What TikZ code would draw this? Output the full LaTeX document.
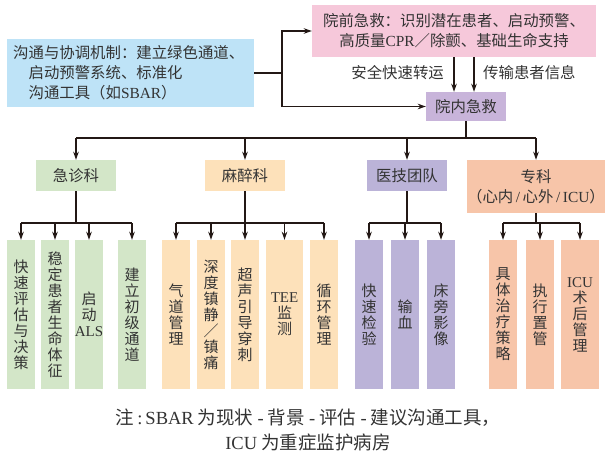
\documentclass[tikz,border=0pt]{standalone}
\usepackage{fontspec}
\setmainfont{Liberation Serif}
\newfontfamily\cjk{Noto Sans CJK SC}
\newcommand\lat[1]{{\rmfamily #1}}
\usetikzlibrary{arrows.meta}
\definecolor{cpink}{HTML}{F6C8DA}
\definecolor{cblue}{HTML}{BEE3F7}
\definecolor{cynj}{HTML}{C8B4DA}
\definecolor{cgreen}{HTML}{D3E6C8}
\definecolor{cpeach}{HTML}{FDE1BA}
\definecolor{clav}{HTML}{BBB3D8}
\definecolor{csalmon}{HTML}{F7C5A9}
\definecolor{txt}{HTML}{333333}
\definecolor{ln}{HTML}{231815}
\tikzset{
  box/.style={inner sep=0pt, text=txt, align=center, font=\cjk\fontsize{15.4}{20}\selectfont},
  lvltwo/.style={box, minimum width=80pt, minimum height=31pt},
  leaf/.style={box, minimum width=28pt, minimum height=149pt, font=\cjk\fontsize{15}{16}\selectfont},
  lbl/.style={inner sep=0pt, text=txt, font=\cjk\fontsize{15.4}{20}\selectfont},
  conn/.style={draw=ln, line width=1.6pt},
  arr/.style={conn, -{Stealth[length=8pt,width=5.5pt]}},
}
\begin{document}
\begin{tikzpicture}[x=1pt,y=-1pt]
\useasboundingbox (0,0) rectangle (609,454);
% top boxes
\node[box, fill=cpink, minimum width=284pt, minimum height=52pt] (pre) at (454,31)
  {院前急救：识别潜在患者、启动预警、\\高质量\lat{CPR}／除颤、基础生命支持};
\node[box, fill=cblue, minimum width=247pt, minimum height=68pt] (blue) at (130.5,73) {};
\node[lbl, anchor=west, align=left] (bluetxt) at (13,73)
  {沟通与协调机制：建立绿色通道、\\\phantom{沟}启动预警系统、标准化\\\phantom{沟}沟通工具（如\lat{SBAR}）};
\node[box, fill=cynj, minimum width=80pt, minimum height=29pt] (ynj) at (466,106.5) {院内急救};
% level 2
\node[lvltwo, fill=cgreen] (jz) at (76,175.5) {急诊科};
\node[lvltwo, fill=cpeach] (mz) at (245,175.5) {麻醉科};
\node[lvltwo, fill=clav] (yj) at (407,175.5) {医技团队};
\node[box, fill=csalmon, minimum width=136pt, minimum height=53pt] (zk) at (536,186.5)
  {专科\\（心内\lat{\,/\,}心外\lat{\,/\,ICU}）};
% leaves
\node[leaf, fill=cgreen] (g1) at (21,314.5) {快\\速\\评\\估\\与\\决\\策};
\node[leaf, fill=cgreen] (g2) at (55,314.5) {稳\\定\\患\\者\\生\\命\\体\\征};
\node[leaf, fill=cgreen] (g3) at (89,314.5) {启\\动\\\lat{ALS}};
\node[leaf, fill=cgreen] (g4) at (132,314.5) {建\\立\\初\\级\\通\\道};
\node[leaf, fill=cpeach] (o1) at (176,314.5) {气\\道\\管\\理};
\node[leaf, fill=cpeach] (o2) at (211,314.5) {深\\度\\镇\\静\\／\\镇\\痛};
\node[leaf, fill=cpeach] (o3) at (245,314.5) {超\\声\\引\\导\\穿\\刺};
\node[leaf, fill=cpeach, minimum width=37pt] (o4) at (284.5,314.5) {\lat{TEE}\\监\\测};
\node[leaf, fill=cpeach] (o5) at (324,314.5) {循\\环\\管\\理};
\node[leaf, fill=clav] (p1) at (369,314.5) {快\\速\\检\\验};
\node[leaf, fill=clav] (p2) at (405,314.5) {输\\血};
\node[leaf, fill=clav] (p3) at (441,314.5) {床\\旁\\影\\像};
\node[leaf, fill=csalmon] (s1) at (503,314.5) {具\\体\\治\\疗\\策\\略};
\node[leaf, fill=csalmon] (s2) at (540,314.5) {执\\行\\置\\管};
\node[leaf, fill=csalmon, minimum width=38pt] (s3) at (580,314.5) {\lat{ICU}\\术\\后\\管\\理};
% connectors top
\coordinate (j) at (282,73);
\draw[conn] (blue.east) -- (j);
\draw[arr] (j) |- (pre.west);
\draw[arr] (j) |- (ynj.west);
\draw[arr] (pre.south) -- (pre.south |- ynj.north);
\draw[arr] ([xshift=20pt]pre.south) -- ([xshift=20pt]pre.south |- ynj.north);
\node[lbl, anchor=east] (l1) at (444,73) {安全快速转运};
\node[lbl, anchor=west] (l2) at (483,73) {传输患者信息};
% level 2 connectors
\coordinate (b1) at (466,138);
\draw[conn] (ynj.south) -- (b1);
\draw[conn] (jz.north |- b1) -- (zk.north |- b1);
\foreach \n in {jz,mz,yj,zk} \draw[arr] (\n.north |- b1) -- (\n.north);
% level 3 connectors
\coordinate (b2) at (0,223);
\draw[conn] (jz.south) -- (jz.south |- b2);
\draw[conn] (g1.north |- b2) -- (g4.north |- b2);
\foreach \n in {g1,g2,g3,g4} \draw[arr] (\n.north |- b2) -- (\n.north);
\draw[conn] (mz.south) -- (mz.south |- b2);
\draw[conn] (o1.north |- b2) -- (o5.north |- b2);
\foreach \n in {o1,o2,o3,o4,o5} \draw[arr] (\n.north |- b2) -- (\n.north);
\draw[conn] (yj.south) -- (yj.south |- b2);
\draw[conn] (p1.north |- b2) -- (p3.north |- b2);
\foreach \n in {p1,p2,p3} \draw[arr] (\n.north |- b2) -- (\n.north);
\draw[conn] (zk.south) -- (zk.south |- b2);
\draw[conn] (s1.north |- b2) -- (s3.north |- b2);
\foreach \n in {s1,s2,s3} \draw[arr] (\n.north |- b2) -- (\n.north);
% note
\node[inner sep=0pt, text=txt, align=center, font=\cjk\fontsize{18.5}{25}\selectfont] (note) at (308,429.5)
  {注\lat{\,:\,SBAR} 为现状 \lat{-} 背景 \lat{-} 评估 \lat{-} 建议沟通工具，\\\lat{ICU} 为重症监护病房};
\end{tikzpicture}
\end{document}
